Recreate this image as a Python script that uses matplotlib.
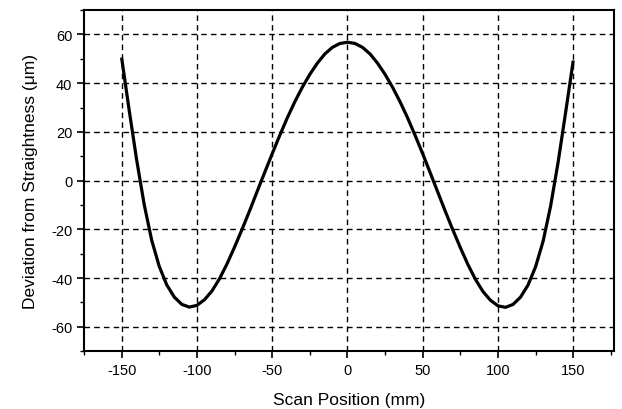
import matplotlib
matplotlib.use("Agg")
import matplotlib.pyplot as plt
from matplotlib.ticker import MultipleLocator

scan_mm = [-150, -145, -140, -135, -130, -125, -120, -115, -110, -105, -100,
           -95, -90, -85, -80, -75, -70, -65, -60, -55, -50, -45, -40, -35,
           -30, -25, -20, -15, -10, -5, 0, 5, 10, 15, 20, 25, 30, 35, 40, 45,
           50, 55, 60, 65, 70, 75, 80, 85, 90, 95, 100, 105, 110, 115, 120,
           125, 130, 135, 140, 145, 150]
deviation_um = [50.5, 29.0, 8.5, -9.8, -24.5, -35.2, -42.8, -47.8, -50.8, -51.9, -51.2,
                -48.9, -45.3, -40.3, -34.2, -27.3, -20.0, -12.4, -4.5, 3.3, 11.0, 18.5, 25.7, 32.3,
                38.3, 43.6, 48.2, 52.0, 54.7, 56.3, 56.8, 56.3, 54.7, 52.0, 48.2, 43.6, 38.3, 32.3, 25.7, 18.5,
                11.0, 3.2, -4.7, -12.6, -20.2, -27.5, -34.4, -40.5, -45.5, -49.1, -51.4, -52.0, -50.8, -47.8, -42.8,
                -35.3, -24.8, -10.3, 7.8, 28.3, 49.3]

x_ticks = [-150, -100, -50, 0, 50, 100, 150]
y_ticks = [-60, -40, -20, 0, 20, 40, 60]

plt.rcParams['font.family'] = ['Liberation Sans', 'DejaVu Sans']

fig = plt.figure(figsize=(6.22, 4.10), dpi=100)
ax = fig.add_axes([0.135, 0.141, 0.852, 0.832])

ax.plot(scan_mm, deviation_um, color='black', lw=2.3, solid_capstyle='butt',
        solid_joinstyle='round', zorder=3)

ax.set_xlim(-175, 177)
ax.set_ylim(-70, 70)
ax.set_xticks(x_ticks)
ax.set_yticks(y_ticks)
ax.set_xticklabels([str(v) for v in x_ticks])
ax.set_yticklabels([str(v) for v in y_ticks])
ax.xaxis.set_minor_locator(MultipleLocator(25))
ax.yaxis.set_minor_locator(MultipleLocator(10))
ax.tick_params(which='major', direction='out', length=5, width=1.2, labelsize=10.5, colors='black')
ax.tick_params(which='minor', direction='out', length=3, width=1)

ax.grid(True, which='major', color='black', linestyle=(0, (4, 3)), lw=1.0)
for s in ax.spines.values():
    s.set_linewidth(1.5)
    s.set_color('black')

ax.set_xlabel('Scan Position (mm)', fontsize=12.5, labelpad=11)
ax.set_ylabel('Deviation from Straightness (\u03bcm)', fontsize=12.5, labelpad=9)

fig.savefig('out.png', dpi=100)
